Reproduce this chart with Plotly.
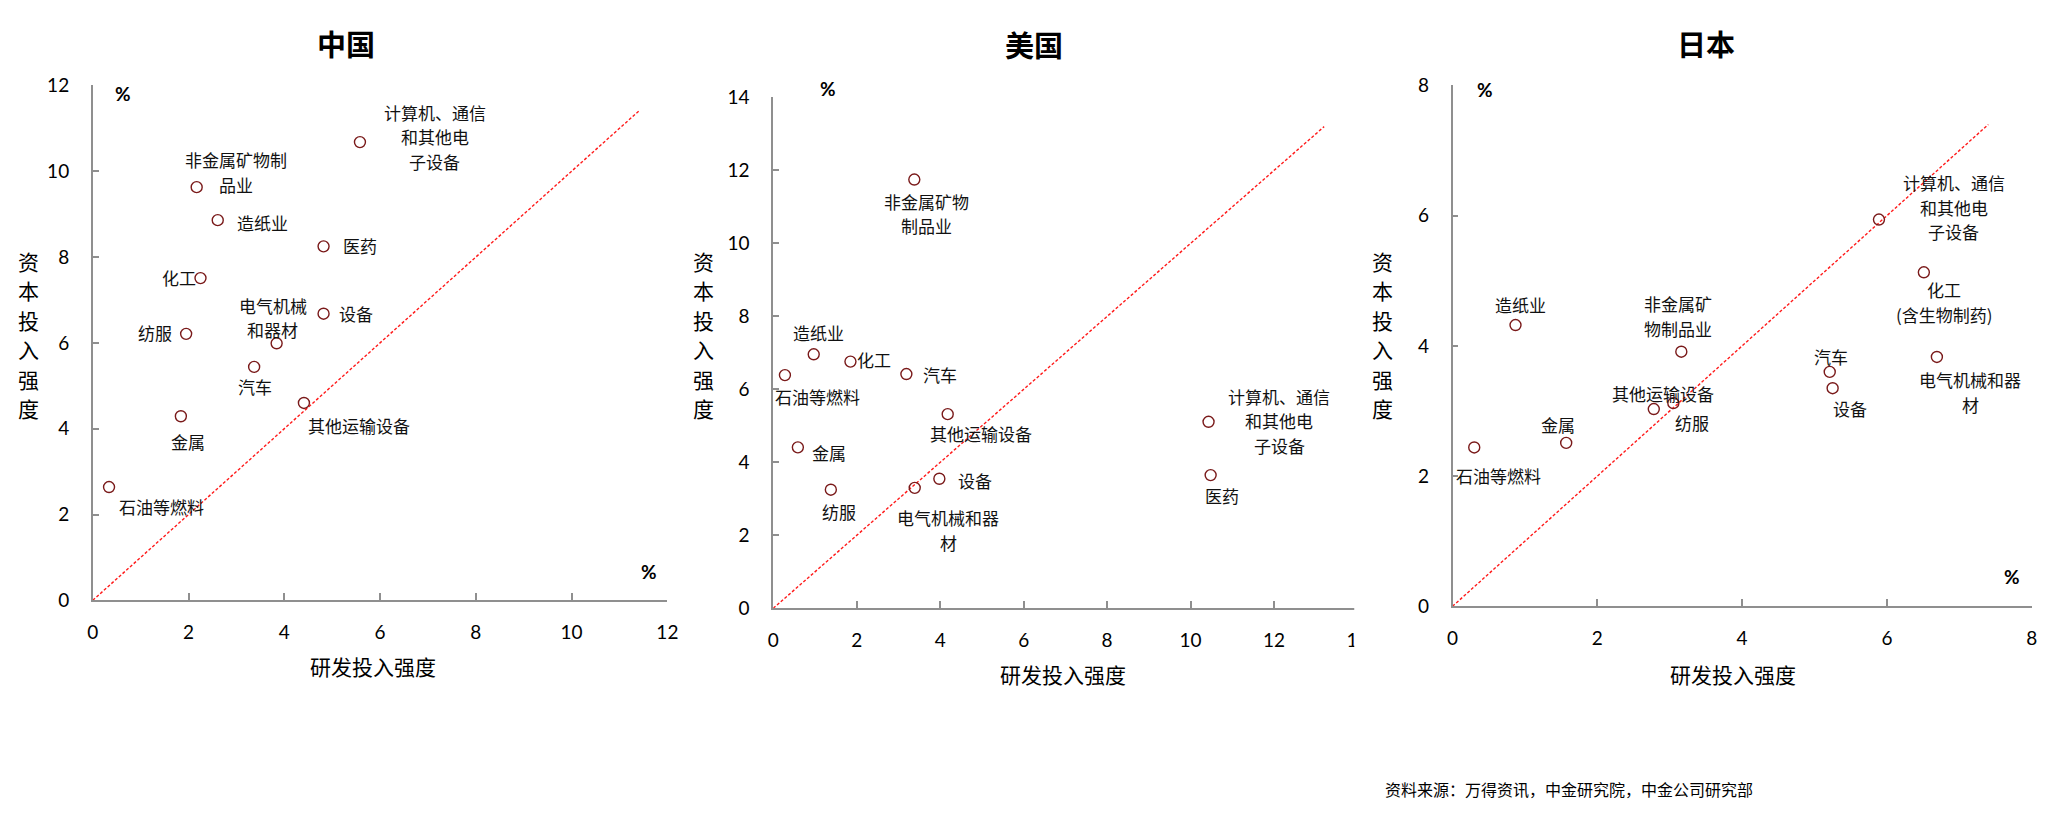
import plotly.graph_objects as go

W, H = 2048, 818

# ---------------- data ----------------
cn_names = ["计算机、通信\n和其他电\n子设备", "非金属矿物制\n品业", "造纸业", "医药", "化工", "设备",
            "纺服", "电气机械\n和器材", "汽车", "其他运输设备", "金属", "石油等燃料"]
cn_rd = [5.58, 2.17, 2.61, 4.82, 2.25, 4.82, 1.95, 3.84, 3.37, 4.41, 1.84, 0.34]
cn_cap = [10.68, 9.63, 8.86, 8.25, 7.51, 6.68, 6.21, 5.99, 5.44, 4.60, 4.29, 2.64]

us_names = ["非金属矿物\n制品业", "造纸业", "化工", "汽车", "石油等燃料", "其他运输设备",
            "计算机、通信\n和其他电\n子设备", "金属", "设备", "医药", "纺服", "电气机械和器\n材"]
us_rd = [3.38, 0.97, 1.85, 3.19, 0.28, 4.18, 10.43, 0.59, 3.98, 10.48, 1.38, 3.39]
us_cap = [11.75, 6.96, 6.76, 6.42, 6.39, 5.32, 5.11, 4.41, 3.55, 3.65, 3.25, 3.30]

jp_names = ["计算机、通信\n和其他电\n子设备", "化工\n(含生物制药)", "造纸业", "非金属矿\n物制品业", "汽车",
            "电气机械和器\n材", "其他运输设备", "设备", "纺服", "金属", "石油等燃料"]
jp_rd = [5.89, 6.51, 0.87, 3.16, 5.21, 6.69, 2.78, 5.25, 3.05, 1.57, 0.30]
jp_cap = [5.94, 5.13, 4.32, 3.91, 3.60, 3.83, 3.03, 3.35, 3.12, 2.51, 2.44]

titles = ["中国", "美国", "日本"]
x_title = "研发投入强度"
y_title = "资本投入强度"
source = "资料来源：万得资讯，中金研究院，中金公司研究部"
axis_max = [12, 14, 8]
diag_end = [11.4, 13.2, 7.4]

# ---------------- layout (pixel geometry / styles) ----------------
# screen calibration (observed = s * layout + a)
SX, AX0 = 0.991, 5.7
SY, AY0 = 0.974, 11.4

# label offsets (dx right, dy up) in px from the marker to the label block centre
cn_off = [(74, 5), (39, 15), (44, -2), (36, 1), (-21, 1), (32, 0), (-31, 1), (-4, 25),
          (1, -19), (55, -22), (7, -25), (52, -19)]
us_off = [(12, -33), (5, 21), (23, 2), (33, 0), (32, -21), (33, -19), (70, 1), (31, -5),
          (35, -2), (11, -20), (8, -21), (33, -41)]
jp_off = [(74, 12), (20, -29), (5, 20), (-3, 35), (1, 15), (33, -34), (9, 15), (17, -20),
          (18, -19), (-8, 18), (24, -27)]

# plot areas in target pixels: (x_left, x_right, y_bottom, y_top)
boxes = [(92.4, 666.6, 601, 85), (772.4, 1356.3, 609, 97), (1451.2, 2030, 607, 85)]
title_pos = [(345, 42.5), (1033, 43), (1704.5, 42)]
xtitle_pos = [(372, 667), (1062, 675), (1731, 675)]
ytitle_x = [28, 703, 1381]
ytitle_y0, ytitle_step = 261, 29.5
ypct_pos = [(123, 93), (827, 88), (1484, 89)]
xpct_pos = [(648, 572), None, (2010, 577)]

CJK = "Noto Sans CJK SC"
NUM = "Lato"
LH = 24
MARK = "#7a1a1a"
AXC = "#8f8f8f"


def px(x):
    return ((x - AX0) / SX) / W


def py(y):
    return 1 - ((y - AY0) / SY) / H


fig = go.Figure()
annotations = []

datasets = [(cn_names, cn_rd, cn_cap, cn_off), (us_names, us_rd, us_cap, us_off),
            (jp_names, jp_rd, jp_cap, jp_off)]

for i, (names, rd, cap, off) in enumerate(datasets):
    xa = "x" if i == 0 else f"x{i+1}"
    ya = "y" if i == 0 else f"y{i+1}"
    # diagonal reference line
    fig.add_trace(go.Scatter(x=[0, diag_end[i]], y=[0, diag_end[i]], mode="lines",
                             line=dict(color="#ff1a1a", width=1.4, dash="3px,2px"),
                             xaxis=xa, yaxis=ya, showlegend=False, hoverinfo="skip"))
    fig.add_trace(go.Scatter(x=rd, y=cap, mode="markers",
                             marker=dict(symbol="circle-open", size=11, color=MARK,
                                         line=dict(width=1.4, color=MARK)),
                             xaxis=xa, yaxis=ya, showlegend=False, text=names))
    for name, xv, yv, (dx, dy) in zip(names, rd, cap, off):
        lines = name.split("\n")
        n = len(lines)
        for k, t in enumerate(lines):
            annotations.append(dict(x=xv, y=yv, xref=xa, yref=ya, text=t, showarrow=False,
                                    xanchor="center", yanchor="middle",
                                    xshift=dx / SX, yshift=(dy - (k - (n - 1) / 2) * LH) / SY,
                                    font=dict(family=CJK, size=17, color="#111")))

    x0, x1, yb, yt = boxes[i]
    common = dict(showline=True, linecolor=AXC, linewidth=1.6, ticks="inside", tickcolor=AXC,
                  tickwidth=1.6, showgrid=False, zeroline=False, dtick=2,
                  tickfont=dict(family=NUM, size=19, color="#000"), fixedrange=True)
    fig.update_layout(**{
        ("xaxis" if i == 0 else f"xaxis{i+1}"): dict(
            domain=[px(x0), px(x1)], range=[0, axis_max[i]], anchor=ya, ticklen=8,
            ticklabelstandoff=14, **common),
        ("yaxis" if i == 0 else f"yaxis{i+1}"): dict(
            domain=[py(yb), py(yt)], range=[0, axis_max[i]], anchor=xa, ticklen=6,
            ticklabelstandoff=18, **common),
    })

    tx, ty = title_pos[i]
    annotations.append(dict(x=px(tx), y=py(ty), xref="paper", yref="paper", text=f"<b>{titles[i]}</b>",
                            showarrow=False, xanchor="center", yanchor="middle",
                            font=dict(family=CJK, size=29, color="#000")))
    ax_, ay_ = xtitle_pos[i]
    annotations.append(dict(x=px(ax_), y=py(ay_), xref="paper", yref="paper", text=x_title,
                            showarrow=False, xanchor="center", yanchor="middle",
                            font=dict(family=CJK, size=21, color="#000")))
    for k, ch in enumerate(y_title):
        annotations.append(dict(x=px(ytitle_x[i]), y=py(ytitle_y0 + k * ytitle_step),
                                xref="paper", yref="paper", text=ch, showarrow=False,
                                xanchor="center", yanchor="middle",
                                font=dict(family=CJK, size=21, color="#000")))
    pxp, pyp = ypct_pos[i]
    annotations.append(dict(x=px(pxp), y=py(pyp), xref="paper", yref="paper", text="<b>%</b>",
                            showarrow=False, xanchor="center", yanchor="middle",
                            font=dict(family=NUM, size=19, color="#000")))
    if xpct_pos[i] is not None:
        qx, qy = xpct_pos[i]
        annotations.append(dict(x=px(qx), y=py(qy), xref="paper", yref="paper", text="<b>%</b>",
                                showarrow=False, xanchor="center", yanchor="middle",
                                font=dict(family=NUM, size=19, color="#000")))

annotations.append(dict(x=px(1382), y=py(790), xref="paper", yref="paper", text=source,
                        showarrow=False, xanchor="left", yanchor="middle",
                        font=dict(family=CJK, size=16, color="#000")))

# the US panel is cropped on its right edge in the original figure
shapes = [dict(type="rect", xref="paper", yref="paper", x0=px(1353), x1=px(1400),
               y0=py(700), y1=py(540), fillcolor="white", line=dict(width=0), layer="above")]

fig.update_layout(width=W, height=H, margin=dict(l=0, r=0, t=0, b=0),
                  paper_bgcolor="white", plot_bgcolor="white",
                  annotations=annotations, shapes=shapes, showlegend=False)

fig.write_html("out.html", config={"displayModeBar": False})
